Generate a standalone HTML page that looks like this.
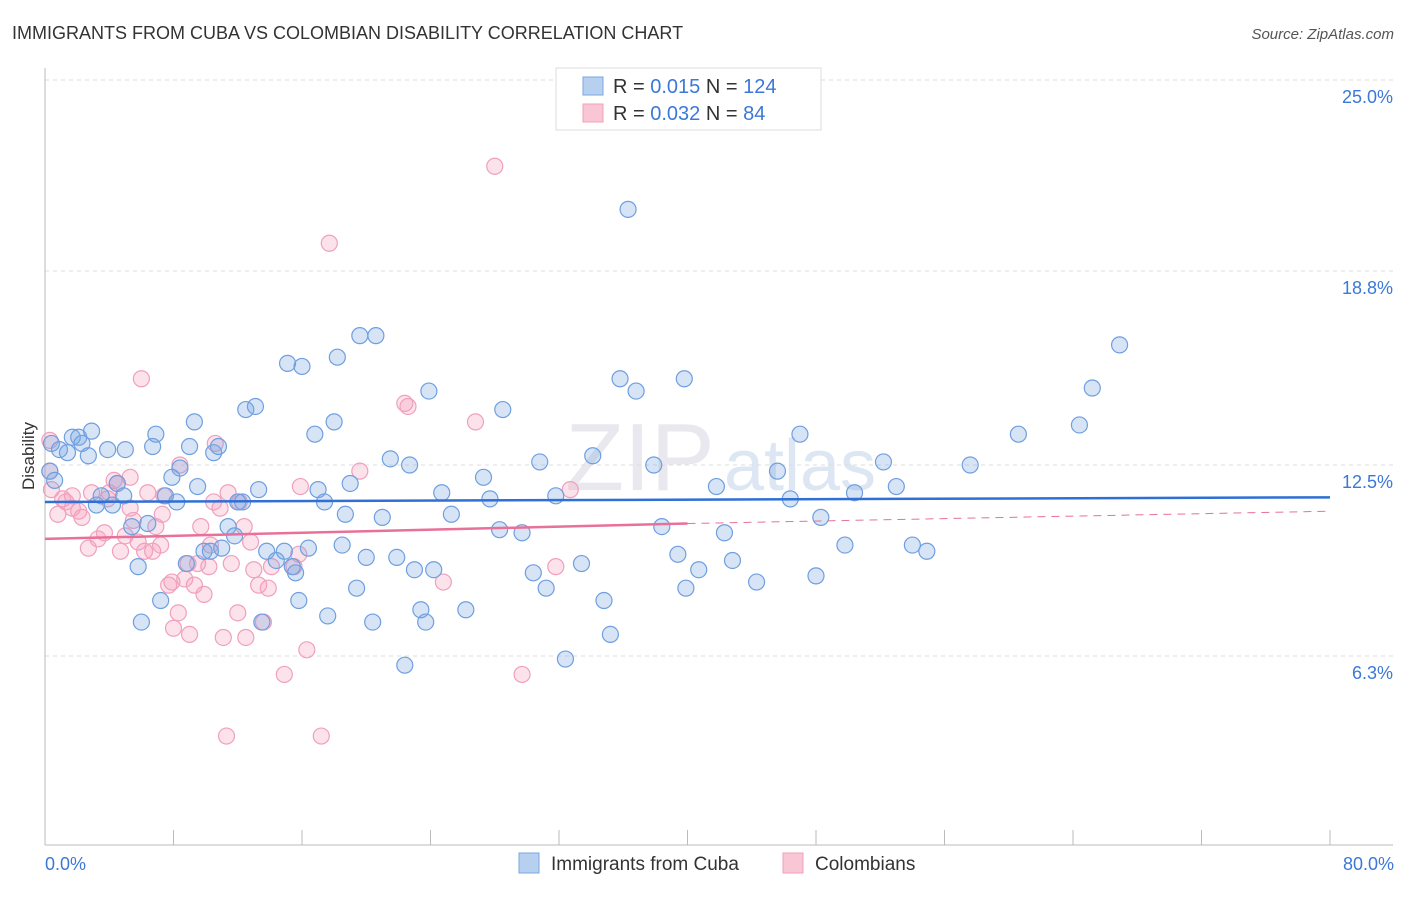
<!DOCTYPE html>
<html><head><meta charset="utf-8"><style>
body{margin:0;background:#fff;font-family:"Liberation Sans",sans-serif;}
svg text{font-family:"Liberation Sans",sans-serif;}
</style></head><body>
<svg id="chart" width="1406" height="892" viewBox="0 0 1406 892" xmlns="http://www.w3.org/2000/svg">
<text x="12" y="39" font-size="18" fill="#333">IMMIGRANTS FROM CUBA VS COLOMBIAN DISABILITY CORRELATION CHART</text>
<text x="1394" y="39" font-size="15" fill="#555" font-style="italic" text-anchor="end">Source: ZipAtlas.com</text>
<text x="640" y="490" font-size="96" fill="#e8e8ee" font-family="Liberation Serif" text-anchor="middle">ZIP</text>
<text x="800" y="490" font-size="72" fill="#dde6f3" text-anchor="middle">atlas</text>
<g id="grid"></g>
<g id="axes"></g>
<g id="pts"></g>
<g id="trend"></g>
<text transform="translate(34,456) rotate(-90)" font-size="17" fill="#333" text-anchor="middle">Disability</text>
<text x="45" y="870" font-size="18" fill="#3b78d8">0.0%</text>
<text x="1394" y="870" font-size="18" fill="#3b78d8" text-anchor="end">80.0%</text>
<g>
<rect x="556" y="68" width="265" height="62" fill="#fff" stroke="#ddd"/>
<rect x="583" y="77" width="20" height="18" fill="#b8d0f0" stroke="#7aa7e0"/>
<rect x="583" y="104" width="20" height="18" fill="#f8c6d4" stroke="#f0a0b8"/>
<text x="613" y="93" font-size="20" fill="#333">R = <tspan fill="#3b78d8">0.015</tspan>   N = <tspan fill="#3b78d8">124</tspan></text>
<text x="613" y="120" font-size="20" fill="#333">R = <tspan fill="#3b78d8">0.032</tspan>   N =  <tspan fill="#3b78d8"> 84</tspan></text>
</g>
<g><rect x="519" y="853" width="20" height="20" fill="#b8d0f0" stroke="#7aa7e0"/><text x="551" y="870" font-size="19" fill="#333">Immigrants from Cuba</text></g>
<g><rect x="783" y="853" width="20" height="20" fill="#f8c6d4" stroke="#f0a0b8"/><text x="815" y="870" font-size="19" fill="#333">Colombians</text></g>
</svg>
<script>
const yTicks=[25.0,18.8,12.5,6.3];
const yTickLabels=["25.0%","18.8%","12.5%","6.3%"];
const xTicks=[0,8,16,24,32,40,48,56,64,72,80];
const cubaX=[0.4,0.3,0.6,0.9,1.4,1.7,2.1,2.3,2.7,2.9,3.2,3.5,3.9,4.2,4.5,4.9,5.0,5.4,5.8,6.0,6.4,6.7,6.9,7.2,7.5,7.9,8.2,8.4,8.8,9.0,9.3,9.5,9.9,10.3,10.5,10.8,11.0,11.4,11.8,12.0,12.3,12.5,13.1,13.3,13.5,13.8,14.4,14.9,15.1,15.4,15.6,15.8,16.0,16.4,16.8,17.0,17.4,17.6,18.0,18.2,18.5,18.7,19.0,19.4,19.6,20.0,20.4,20.6,21.0,21.5,21.9,22.4,22.7,23.0,23.4,23.7,23.9,24.2,24.7,25.3,26.2,27.3,27.7,28.3,28.5,29.7,30.4,30.8,31.2,31.8,32.4,33.4,34.1,34.8,35.2,35.8,36.3,36.8,37.9,38.4,39.4,39.8,39.9,40.7,41.8,42.3,42.8,44.3,45.6,46.4,47.0,48.0,48.3,49.8,50.4,52.2,53.0,54.0,54.9,57.6,60.6,64.4,65.2,66.9];
const cubaY=[13.2,12.3,12.0,13.0,12.9,13.4,13.4,13.2,12.8,13.6,11.2,11.5,13.0,11.2,11.9,11.5,13.0,10.5,9.2,7.4,10.6,13.1,13.5,8.1,11.5,12.1,11.3,12.4,9.3,13.1,13.9,11.8,9.7,9.7,12.9,13.1,9.8,10.5,10.2,11.3,11.3,14.3,14.4,11.7,7.4,9.7,9.4,9.7,15.8,9.2,9.0,8.1,15.7,9.8,13.5,11.7,11.3,7.6,13.9,16.0,9.9,10.9,11.9,8.5,16.7,9.5,7.4,16.7,10.8,12.7,9.5,6.0,12.5,9.1,7.8,7.4,14.9,9.1,11.6,10.9,7.8,12.1,11.4,10.4,14.3,10.3,9.0,12.6,8.5,11.5,6.2,9.3,12.8,8.1,7.0,15.3,20.8,14.9,12.5,10.5,9.6,15.3,8.5,9.1,11.8,10.3,9.4,8.7,12.3,11.4,13.5,8.9,10.8,9.9,11.6,12.6,11.8,9.9,9.7,12.5,13.5,13.8,15.0,16.4];
const colX=[0.3,0.4,0.8,1.1,1.3,1.7,2.1,2.3,2.7,2.9,3.3,3.7,3.9,4.0,4.3,4.5,4.7,5.0,5.3,5.5,5.8,6.0,6.2,6.4,6.7,6.9,7.2,7.3,7.4,7.7,7.9,8.0,8.3,8.4,8.7,8.9,9.0,9.3,9.5,9.7,9.9,10.2,10.3,10.5,10.6,10.9,11.1,11.4,11.6,12.0,12.1,12.4,12.5,12.8,13.0,13.3,13.6,13.9,14.1,14.9,15.5,15.8,15.9,16.3,17.2,17.7,19.6,22.4,22.6,24.8,26.8,28.0,29.7,31.8,32.7,11.3,0.3,1.7,5.3];
const colY=[13.3,11.7,10.9,11.4,11.3,11.5,11.0,10.8,9.8,11.6,10.1,10.3,11.4,11.6,12.0,11.9,9.7,10.2,11.1,10.7,10.0,15.3,9.7,11.6,9.7,10.5,9.9,10.9,11.5,8.6,8.7,7.2,7.7,12.5,8.8,9.3,7.0,8.6,9.3,10.5,8.3,9.2,9.9,11.3,13.2,11.1,6.9,11.6,9.3,7.7,11.3,10.5,6.9,10.0,9.1,8.6,7.4,8.5,9.2,5.7,9.2,9.6,11.8,6.5,3.7,19.7,12.3,14.5,14.4,8.7,13.9,22.2,5.7,9.2,11.7,3.7,12.3,11.1,12.1];
const cubaTrend=[11.3,11.45];
const colTrend=[10.1,10.6,11.0];
const NS="http://www.w3.org/2000/svg";
const X0=45,X1=1330,Y25=80,PX=(X1-X0)/80,PY=192.5/6.25;
function sx(v){return X0+v*PX;}
function sy(v){return Y25+(25-v)*PY;}
function mk(t,a,p){const e=document.createElementNS(NS,t);for(const k in a)e.setAttribute(k,a[k]);p.appendChild(e);return e;}
const grid=document.getElementById('grid'),axes=document.getElementById('axes'),pts=document.getElementById('pts'),tr=document.getElementById('trend');
yTicks.forEach((v,i)=>{
 const l=mk('line',{x1:X0,x2:1393,y1:sy(v),y2:sy(v),stroke:'#ddd','stroke-dasharray':'4,4'},grid);
 
 
 const t=mk('text',{x:1393,y:sy(v)+23,'font-size':18,fill:'#3b78d8','text-anchor':'end'},grid);
 t.textContent=yTickLabels[i];
 
 
});
const ya=mk('line',{x1:X0,x2:X0,y1:68,y2:845,stroke:'#bbb'},axes);


const xa=mk('line',{x1:X0,x2:1393,y1:845,y2:845,stroke:'#bbb'},axes);


xTicks.forEach(v=>{
 const t=mk('line',{x1:sx(v),x2:sx(v),y1:830,y2:845,stroke:'#bbb'},axes);
 
 
});
colX.forEach((x,i)=>{
 const c=mk('circle',{cx:sx(x),cy:sy(colY[i]),r:8,fill:'rgba(244,160,188,0.3)',stroke:'#f0a0bc','stroke-width':1.2},pts);
 
 
});
cubaX.forEach((x,i)=>{
 const c=mk('circle',{cx:sx(x),cy:sy(cubaY[i]),r:8,fill:'rgba(120,165,225,0.3)',stroke:'#6f9fe0','stroke-width':1.2},pts);
 
 
});
const bl=mk('line',{x1:sx(0),x2:sx(80),y1:sy(cubaTrend[0]),y2:sy(cubaTrend[1]),stroke:'#2f6fd6','stroke-width':2.5},tr);


const pl=mk('line',{x1:sx(0),x2:sx(40),y1:sy(colTrend[0]),y2:sy(colTrend[1]),stroke:'#e8709a','stroke-width':2.5},tr);


const pd=mk('line',{x1:sx(40),x2:sx(80),y1:sy(colTrend[1]),y2:sy(colTrend[2]),stroke:'#e8709a','stroke-width':1,'stroke-dasharray':'8,6'},tr);


</script>
</body></html>
